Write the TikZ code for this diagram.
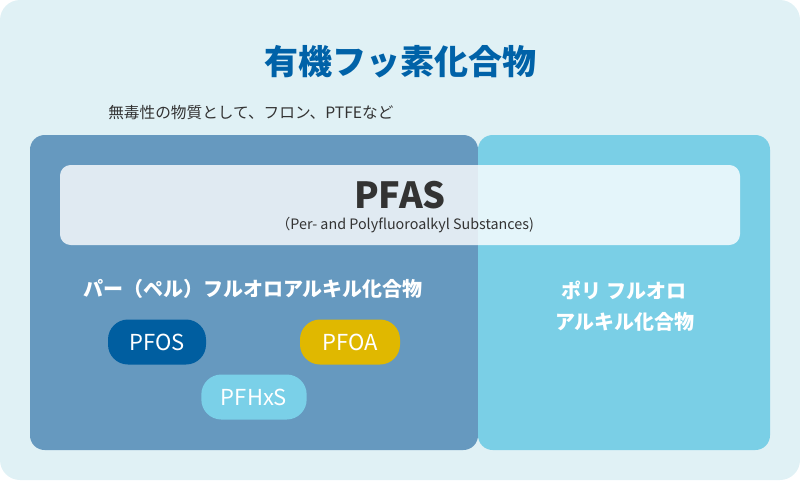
\documentclass[tikz,border=0pt]{standalone}
\usepackage{fontspec}
\setmainfont{Noto Sans CJK JP}
\usetikzlibrary{positioning}

\definecolor{bgpale}{HTML}{E0F1F5}
\definecolor{perfblue}{HTML}{6699BF}
\definecolor{polycyan}{HTML}{7ACFE6}
\definecolor{titleblue}{HTML}{0062A8}
\definecolor{pfosblue}{HTML}{005EA0}
\definecolor{pfoagold}{HTML}{E0B800}
\definecolor{pfhxscyan}{HTML}{7AD0E8}
\definecolor{inkgray}{HTML}{333333}

\begin{document}
\begin{tikzpicture}[x=0.75pt,y=-0.75pt,
  grouplabel/.style={text=white, font=\bfseries\fontsize{15}{18}\selectfont, align=center},
  pill/.style={rounded corners=15pt, minimum height=33.75pt, inner sep=0pt,
    text=white, font=\fontsize{16.5}{20}\selectfont}]
  \useasboundingbox (0,0) rectangle (800,480);
  % background card
  \fill[bgpale, rounded corners=15pt] (0,0) rectangle (800,480);
  % the two groups
  \fill[perfblue, rounded corners=11pt] (30,135) rectangle (478,450);
  \fill[polycyan, rounded corners=11pt] (478,135) rectangle (770,450);
  % PFAS band
  \fill[white, opacity=0.8, rounded corners=8pt] (60,165) rectangle (740,245);

  \node[text=titleblue, font=\bfseries\fontsize{25.5}{30}\selectfont] (title) at (400,62) {有機フッ素化合物};
  \node[anchor=west, text=inkgray, font=\fontsize{11.75}{14}\selectfont, inner sep=0pt] (nontox) at (108,113) {無毒性の物質として、フロン、PTFEなど};

  \node[text=inkgray, font=\bfseries\fontsize{27}{32}\selectfont] (pfas) at (400,195) {PFAS};
  \node[text=inkgray, font=\fontsize{10.75}{13}\selectfont] (pfasfull) at (405,225) {（Per- and Polyfluoroalkyl Substances)};

  \node[grouplabel] (perf) at (253,289) {パー（ペル）フルオロアルキル化合物};
  \node[grouplabel] (poly1) at (624,290) {ポリ フルオロ};
  \node[grouplabel] (poly2) at (625,322) {アルキル化合物};

  % the three substances
  \foreach \lbl/\cx/\cy/\w/\col in {PFOS/157/342/73.5pt/pfosblue, PFOA/350/342/75pt/pfoagold, PFHxS/254/397/79pt/pfhxscyan} {
    \node[pill, fill=\col, minimum width=\w] (\lbl) at (\cx,\cy) {\lbl};
  }
\end{tikzpicture}
\end{document}
